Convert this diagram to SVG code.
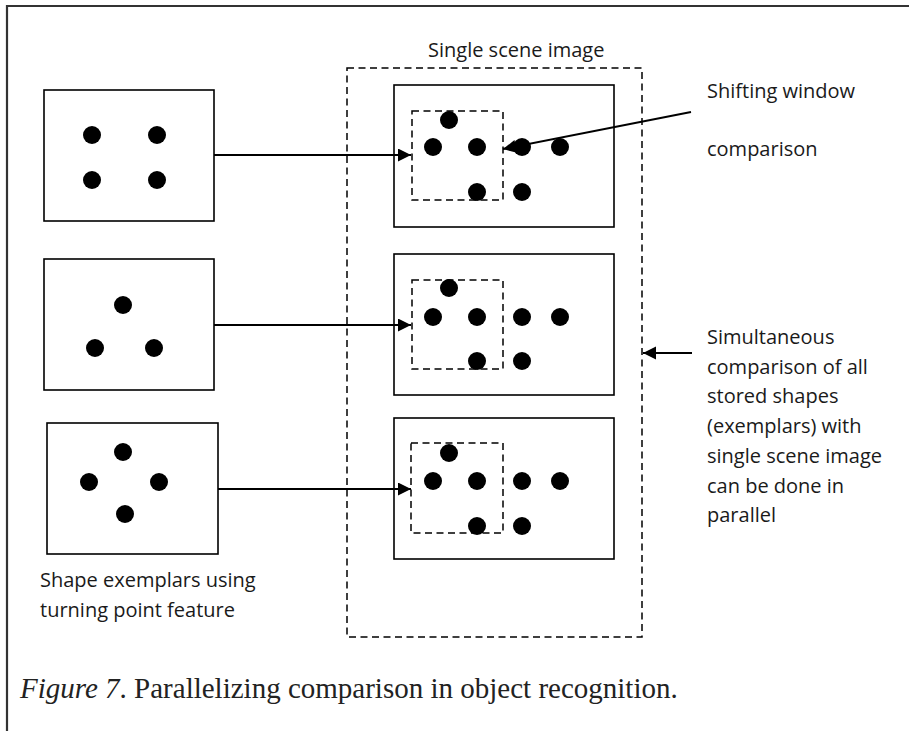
<svg xmlns="http://www.w3.org/2000/svg" width="909" height="731" viewBox="0 0 909 731">
<defs>
<marker id="ah" markerUnits="userSpaceOnUse" markerWidth="14" markerHeight="14" refX="13" refY="6.5" orient="auto">
<path d="M0,0 L13,6.5 L0,13 z" fill="#000"/>
</marker>
<style>
.box{fill:#fff;stroke:#000;stroke-width:1.6}
.dash{fill:none;stroke:#000;stroke-width:1.5;stroke-dasharray:7 4.5}
.dot{fill:#000}
.conn{fill:none;stroke:#000;stroke-width:2;marker-end:url(#ah)}
.lbl{font-family:"Open Sans","Noto Sans",sans-serif;font-size:20px;fill:#1a1a1a}
.cap{font-family:"Liberation Serif","Times New Roman",serif;font-size:29px;fill:#222}
</style>
</defs>
<rect width="909" height="731" fill="#fff"/>
<g id="frame">
<path d="M7,731 V6 H909" fill="none" stroke="#333" stroke-width="2.2"/>
</g>
<g id="scene-container">
<rect class="dash" x="347" y="68" width="295" height="569"/>
<text class="lbl" x="428" y="57">Single scene image</text>
</g>
<g id="exemplar1">
<rect class="box" x="44" y="90" width="170" height="131"/>
<circle class="dot" cx="92" cy="135" r="9"/>
<circle class="dot" cx="157" cy="135" r="9"/>
<circle class="dot" cx="92" cy="180" r="9"/>
<circle class="dot" cx="157" cy="180" r="9"/>
</g>
<g id="exemplar2">
<rect class="box" x="44" y="259" width="170" height="131"/>
<circle class="dot" cx="123" cy="305" r="9"/>
<circle class="dot" cx="95" cy="348" r="9"/>
<circle class="dot" cx="154" cy="348" r="9"/>
</g>
<g id="exemplar3">
<rect class="box" x="47" y="423" width="171" height="131"/>
<circle class="dot" cx="123" cy="452" r="9"/>
<circle class="dot" cx="89" cy="482" r="9"/>
<circle class="dot" cx="159" cy="482" r="9"/>
<circle class="dot" cx="125" cy="514" r="9"/>
<text class="lbl" x="40" y="587">Shape exemplars using</text>
<text class="lbl" x="40" y="617">turning point feature</text>
</g>
<g id="scene1">
<rect class="box" x="394" y="85" width="220" height="142"/>
<rect class="dash" x="412" y="111" width="91" height="89"/>
<circle class="dot" cx="449" cy="120" r="9"/>
<circle class="dot" cx="433" cy="147" r="9"/>
<circle class="dot" cx="477" cy="147" r="9"/>
<circle class="dot" cx="522" cy="147" r="9"/>
<circle class="dot" cx="560" cy="147" r="9"/>
<circle class="dot" cx="477" cy="192" r="9"/>
<circle class="dot" cx="522" cy="192" r="9"/>
</g>
<g id="scene2">
<rect class="box" x="394" y="254" width="220" height="141"/>
<rect class="dash" x="412" y="280" width="91" height="89"/>
<circle class="dot" cx="449" cy="288" r="9"/>
<circle class="dot" cx="433" cy="317" r="9"/>
<circle class="dot" cx="477" cy="317" r="9"/>
<circle class="dot" cx="522" cy="317" r="9"/>
<circle class="dot" cx="560" cy="317" r="9"/>
<circle class="dot" cx="477" cy="361" r="9"/>
<circle class="dot" cx="522" cy="361" r="9"/>
</g>
<g id="scene3">
<rect class="box" x="394" y="418" width="220" height="141"/>
<rect class="dash" x="411" y="443" width="92" height="90"/>
<circle class="dot" cx="449" cy="453" r="9"/>
<circle class="dot" cx="433" cy="481" r="9"/>
<circle class="dot" cx="477" cy="481" r="9"/>
<circle class="dot" cx="522" cy="481" r="9"/>
<circle class="dot" cx="560" cy="481" r="9"/>
<circle class="dot" cx="477" cy="526" r="9"/>
<circle class="dot" cx="522" cy="526" r="9"/>
</g>
<g id="label-shifting">
<text class="lbl" x="707" y="98">Shifting window</text>
<text class="lbl" x="707" y="156">comparison</text>
</g>
<g id="label-simultaneous" class="lbl">
<text x="707" y="344">Simultaneous</text>
<text x="707" y="374">comparison of all</text>
<text x="707" y="403">stored shapes</text>
<text x="707" y="433">(exemplars) with</text>
<text x="707" y="463">single scene image</text>
<text x="707" y="493">can be done in</text>
<text x="707" y="522">parallel</text>
</g>
<g id="connectors">
<line class="conn" x1="214" y1="155" x2="411" y2="155"/>
<line class="conn" x1="214" y1="325" x2="411" y2="325"/>
<line class="conn" x1="218" y1="489" x2="411" y2="489"/>
<line class="conn" x1="691" y1="112" x2="503" y2="149"/>
<line class="conn" x1="692" y1="353" x2="643" y2="353"/>
</g>
<g id="caption">
<text class="cap" x="20" y="698"><tspan font-style="italic">Figure 7</tspan>. Parallelizing comparison in object recognition.</text>
</g>
</svg>
